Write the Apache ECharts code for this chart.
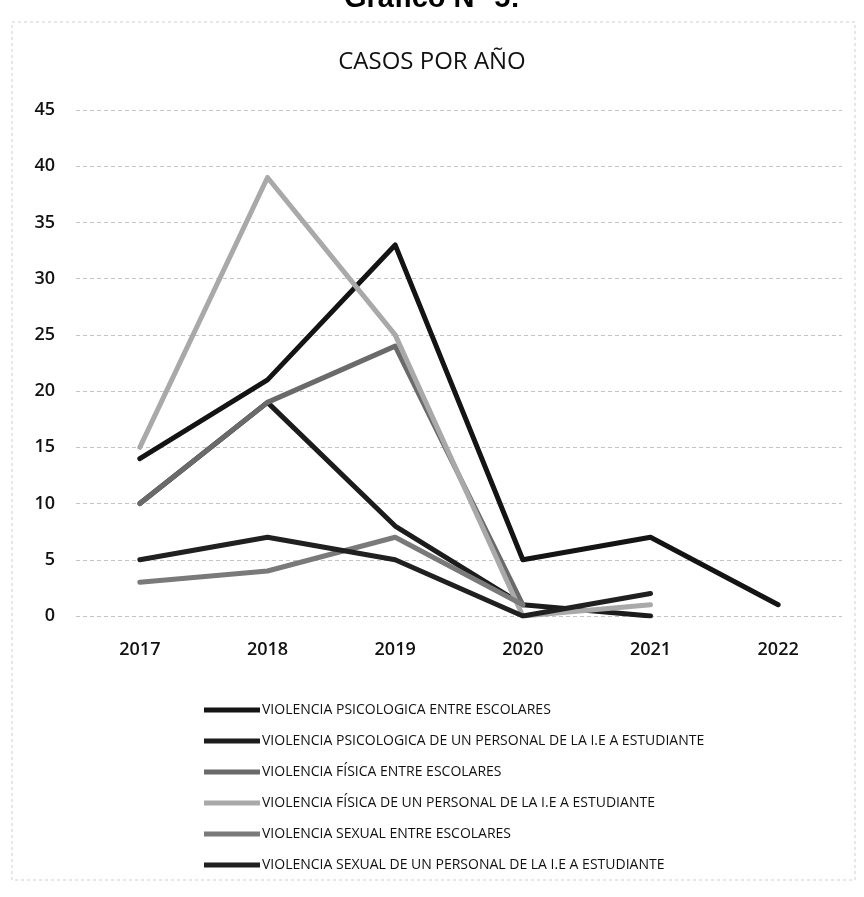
<!DOCTYPE html>
<html>
<head>
<meta charset="utf-8">
<script src="https://cdn.jsdelivr.net/npm/echarts@6/dist/echarts.min.js"></script>
<style>
html,body{margin:0;padding:0;background:#fff;}
#c{width:864px;height:897px;}
</style>
</head>
<body>
<div id="c"></div>
<script>
var years = ['2017', '2018', '2019', '2020', '2021', '2022'];
var seriesNames = [
  'VIOLENCIA PSICOLOGICA ENTRE ESCOLARES',
  'VIOLENCIA PSICOLOGICA DE UN PERSONAL DE LA I.E A ESTUDIANTE',
  'VIOLENCIA FÍSICA ENTRE ESCOLARES',
  'VIOLENCIA FÍSICA DE UN PERSONAL DE LA I.E A ESTUDIANTE',
  'VIOLENCIA SEXUAL ENTRE ESCOLARES',
  'VIOLENCIA SEXUAL DE UN PERSONAL DE LA I.E A ESTUDIANTE'
];
var psicoEscolares = [14, 21, 33, 5, 7, 1];
var psicoPersonal = [10, 19, 8, 1, 0, null];
var fisicaEscolares = [10, 19, 24, 1, null, null];
var fisicaPersonal = [15, 39, 25, 0, 1, null];
var sexualEscolares = [3, 4, 7, 1, null, null];
var sexualPersonal = [5, 7, 5, 0, 2, null];
var yTicks = [0, 5, 10, 15, 20, 25, 30, 35, 40, 45];

var colors = ['#141414', '#1c1c1c', '#6a6a6a', '#a9a9a9', '#7a7a7a', '#202020'];
var dataSets = [psicoEscolares, psicoPersonal, fisicaEscolares, fisicaPersonal, sexualEscolares, sexualPersonal];

var chart = echarts.init(document.getElementById('c'), null, {renderer: 'canvas'});
var font = '"Open Sans", "Noto Sans", sans-serif';

var series = seriesNames.map(function (n, i) {
  return {
    name: n,
    type: 'line',
    data: dataSets[i],
    symbol: 'none',
    connectNulls: false,
    lineStyle: {width: 5, color: colors[i], cap: 'round', join: 'round'},
    itemStyle: {color: colors[i]},
    emphasis: {disabled: true}
  };
});

chart.setOption({
  animation: false,
  backgroundColor: '#fff',
  color: colors,
  title: [
    {text: 'Gráfico N° 5:', left: 'center', top: -21,
      textStyle: {fontFamily: 'Liberation Sans, Arial, sans-serif', fontSize: 29, fontWeight: 'bold', color: '#000'}},
    {text: 'CASOS POR AÑO', left: 'center', top: 45,
      textStyle: {fontFamily: font, fontSize: 24, fontWeight: 'normal', color: '#111'}}
  ],
  graphic: [{
    type: 'rect', shape: {x: 12, y: 22, width: 843, height: 858},
    style: {fill: 'none', stroke: '#cfcfcf', lineWidth: 1, lineDash: [3, 3]}, silent: true
  }],
  grid: {left: 76, right: 22, top: 110, bottom: 281, containLabel: false},
  xAxis: {
    type: 'category', data: years, boundaryGap: true,
    axisLine: {show: false}, axisTick: {show: false},
    axisLabel: {fontFamily: font, fontSize: 18, color: '#111', margin: 25, fontWeight: 600}
  },
  yAxis: {
    type: 'value', min: 0, max: 45, interval: 5,
    axisLine: {show: false}, axisTick: {show: false},
    axisLabel: {fontFamily: font, fontSize: 18, color: '#111', margin: 21, fontWeight: 600,
      formatter: function (v) { return yTicks.indexOf(v) >= 0 ? String(v) : ''; }},
    splitLine: {lineStyle: {color: '#c4c4c4', width: 1, type: [4, 3]}}
  },
  legend: {
    orient: 'vertical', left: 199, top: 697,
    itemWidth: 56, itemHeight: 5, itemGap: 15,
    icon: 'rect',
    textStyle: {fontFamily: font, fontSize: 14, color: '#111', lineHeight: 16, padding: [0, 0, 0, -3]},
    data: seriesNames
  },
  series: series
});
</script>
</body>
</html>
